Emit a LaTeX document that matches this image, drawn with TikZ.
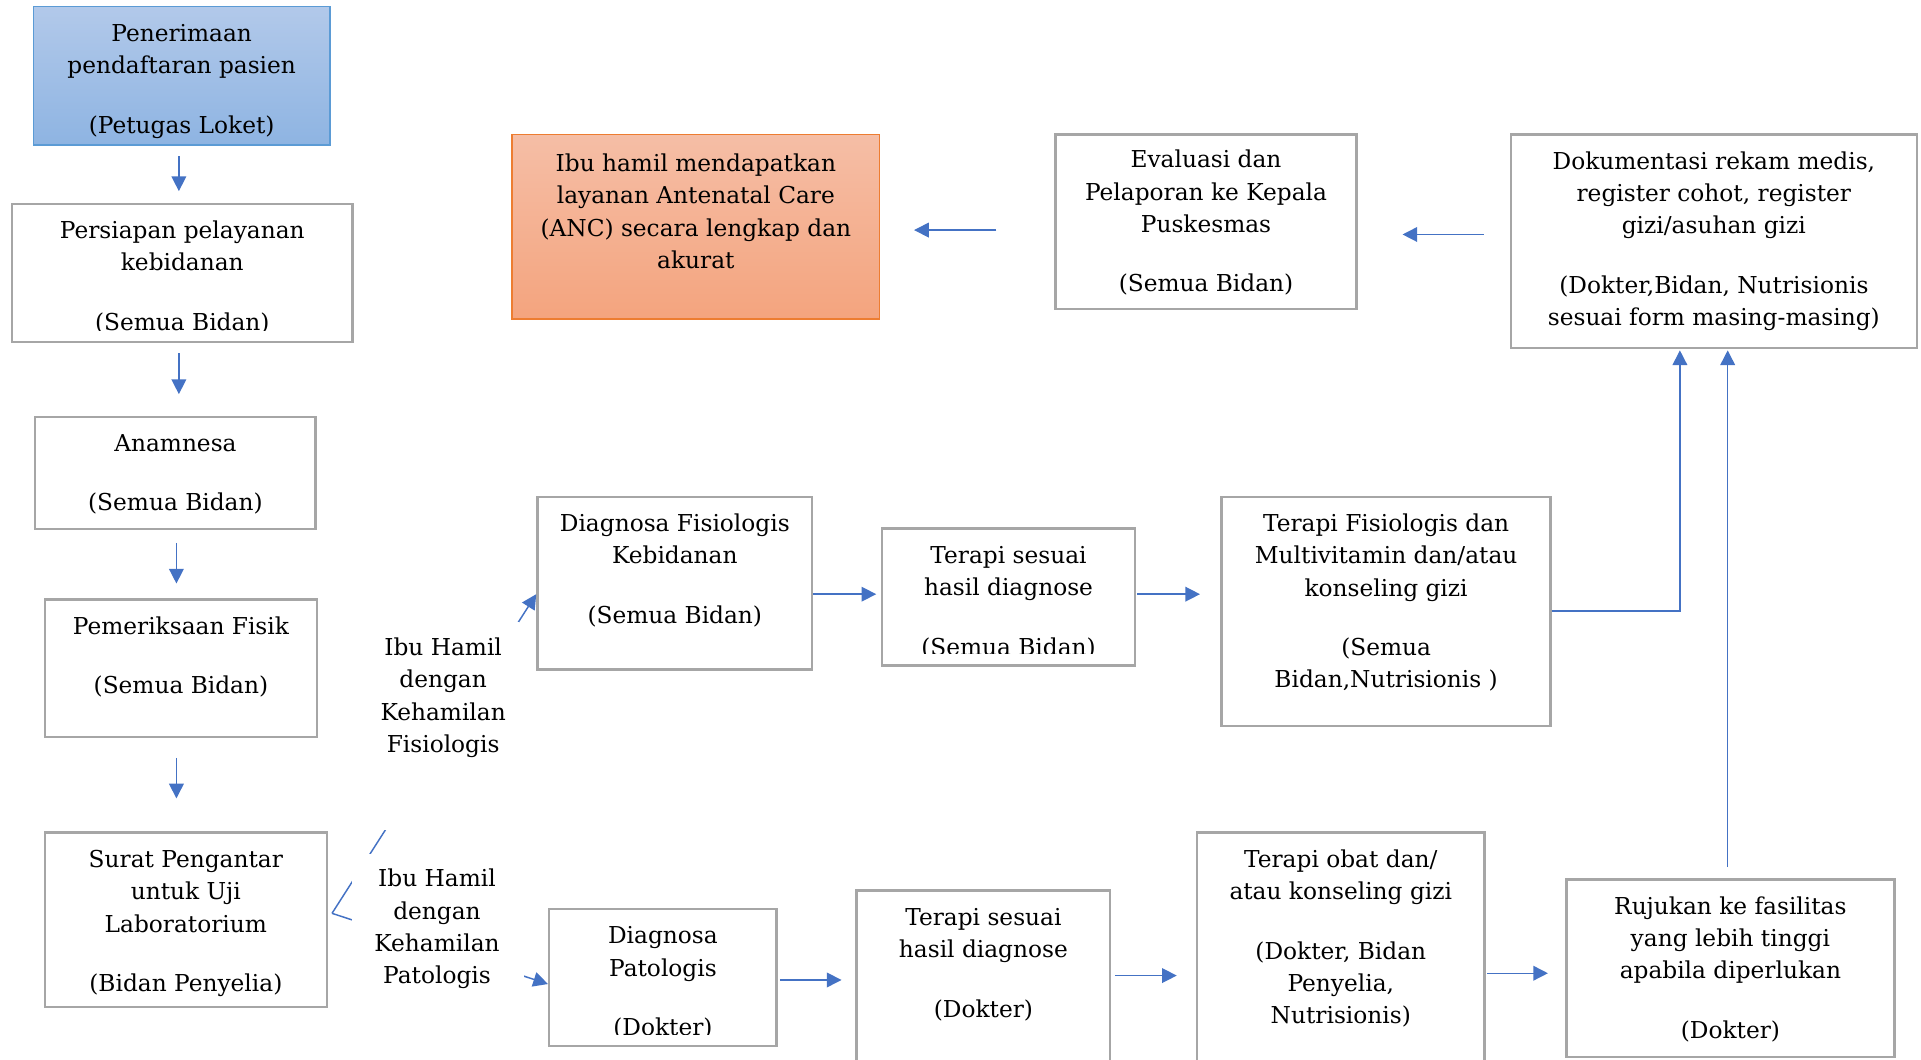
\documentclass[tikz,border=0pt]{standalone}
\usepackage{fontspec}
\setmainfont{DejaVu Serif}
\usetikzlibrary{arrows.meta}
\definecolor{arrowblue}{RGB}{68,114,196}
\definecolor{boxgray}{RGB}{166,166,166}
\definecolor{blueTop}{RGB}{178,201,234}
\definecolor{blueBot}{RGB}{142,180,226}
\definecolor{blueBorder}{RGB}{91,155,213}
\definecolor{orTop}{RGB}{245,190,166}
\definecolor{orBot}{RGB}{244,164,126}
\definecolor{orBorder}{RGB}{237,125,49}
\tikzset{
  stepbox/.style={draw=boxgray, line width=1pt},
  bluebox/.style={draw=blueBorder, line width=0.6pt, top color=blueTop, bottom color=blueBot},
  orangebox/.style={draw=orBorder, line width=0.6pt, top color=orTop, bottom color=orBot},
  txt/.style={font=\fontsize{9.5}{13.2}\selectfont, align=center, inner sep=0pt},
  cover/.style={fill=white, draw=none, inner sep=0pt},
  conn/.style={draw=arrowblue, line width=0.6pt, -{Triangle[length=6pt,width=6pt]}},
  line/.style={draw=arrowblue, line width=0.6pt}
}
\newcommand\bx[6]{\node[#6, minimum width={(#4-#2)*0.5pt}, minimum height={(#5-#3)*0.5pt}] (#1) at ({(#2+#4)/2},{(#3+#5)/2}) {};}
\newcommand\tx[4]{\node[txt, anchor=north] (#1) at (#2,{#3+9.5}) {\strut #4};}
\begin{document}
\begin{tikzpicture}[x=0.5pt,y=-0.5pt]
\path[use as bounding box] (0,0) rectangle (1568,865.2);
\clip (0,0) rectangle (1568,865.2);

% left column
\bx{b1}{27.3}{5.5}{269.3}{118.2}{bluebox}
\tx{t1}{148.3}{5.5}{Penerimaan\\pendaftaran pasien\\[11pt](Petugas Loket)}
\bx{b2}{10}{166.3}{287.7}{279}{stepbox}
\begin{scope}
\clip (10,166.3) rectangle (287.7,269.5);
\tx{t2}{148.8}{166.3}{Persiapan pelayanan\\kebidanan\\[11pt](Semua Bidan)}
\end{scope}
\bx{b3}{28.7}{340.3}{257.7}{431.8}{stepbox}
\tx{t3}{143.2}{340.3}{Anamnesa\\[11pt](Semua Bidan)}
\bx{b4}{36.7}{489.4}{258.7}{601.6}{stepbox}
\tx{t4}{147.7}{489.4}{Pemeriksaan Fisik\\[11pt](Semua Bidan)}
\bx{b5}{36.7}{679.7}{266.7}{822}{stepbox}
\tx{t5}{151.7}{679.7}{Surat Pengantar\\untuk Uji\\Laboratorium\\[11pt](Bidan Penyelia)}

% top row
\bx{b11}{418}{109.7}{717.9}{260.2}{orangebox}
\tx{t11}{568}{111.5}{Ibu hamil mendapatkan\\layanan Antenatal Care\\(ANC) secara lengkap dan\\akurat}
\bx{b10}{861.5}{109.7}{1107.2}{252}{stepbox}
\tx{t10}{984.4}{108.7}{Evaluasi dan\\Pelaporan ke Kepala\\Puskesmas\\[11pt](Semua Bidan)}
\bx{b9}{1233.2}{109.7}{1564.5}{284}{stepbox}
\tx{t9}{1398.9}{109.7}{Dokumentasi rekam medis,\\register cohot, register\\gizi/asuhan gizi\\[11pt](Dokter,Bidan, Nutrisionis\\sesuai form masing-masing)}

% middle row
\bx{b6}{438.7}{405.5}{662.9}{546.3}{stepbox}
\tx{t6}{550.8}{405.5}{Diagnosa Fisiologis\\Kebidanan\\[11pt](Semua Bidan)}
\bx{b7}{719.9}{431.5}{926.5}{543.3}{stepbox}
\begin{scope}
\clip (719.9,431.5) rectangle (926.5,533.5);
\tx{t7}{823.2}{431.5}{Terapi sesuai\\hasil diagnose\\[11pt](Semua Bidan)}
\end{scope}
\bx{b8}{997.2}{405.5}{1265.5}{592.7}{stepbox}
\tx{t8}{1131.4}{405.5}{Terapi Fisiologis dan\\Multivitamin dan/atau\\konseling gizi\\[11pt](Semua\\Bidan,Nutrisionis )}

% bottom row
\bx{b12}{448.3}{741.9}{633.9}{853.8}{stepbox}
\begin{scope}
\clip (448.3,741.9) rectangle (633.9,844);
\tx{t12}{541.1}{741.9}{Diagnosa\\Patologis\\[11pt](Dokter)}
\end{scope}
\bx{b13}{699.2}{727}{906.2}{900}{stepbox}
\tx{t13}{802.7}{727}{Terapi sesuai\\hasil diagnose\\[11pt](Dokter)}
\bx{b14}{976.9}{679.7}{1211.8}{900}{stepbox}
\tx{t14}{1094.4}{679.7}{Terapi obat dan/\\atau konseling gizi\\[11pt](Dokter, Bidan\\Penyelia,\\Nutrisionis)}
\bx{b15}{1278.5}{717.9}{1546.2}{862.6}{stepbox}
\tx{t15}{1412.4}{717.9}{Rujukan ke fasilitas\\yang lebih tinggi\\apabila diperlukan\\[11pt](Dokter)}

% vertical arrows left column
\draw[conn, shorten <=4.4pt, shorten >=4.65pt] (b1.south -| 146,0) -- (b2.north -| 146,0);
\draw[conn, shorten <=4.15pt, shorten >=8.8pt] (b2.south -| 146,0) -- (b3.north -| 146,0);
\draw[conn, shorten <=5.2pt, shorten >=6.05pt] (b3.south -| 144,0) -- (b4.north -| 144,0);
\draw[conn, shorten <=8pt, shorten >=13.5pt] (b4.south -| 144,0) -- (b5.north -| 144,0);

% middle row arrows
\draw[conn, shorten >=1.85pt] (b6.east |- 0,485) -- (b7.west |- 0,485);
\draw[conn, shorten <=0.35pt, shorten >=8.35pt] (b7.east |- 0,485) -- (b8.west |- 0,485);
\draw[conn, shorten >=0.5pt] (b8.east |- 0,498.8) -| (b9.south -| 1371.2,0);

% bottom row arrows
\draw[conn, shorten <=0.8pt, shorten >=5.65pt] (b12.east |- 0,799.9) -- (b13.west |- 0,799.9);
\draw[conn, shorten <=1.35pt, shorten >=7.7pt] (b13.east |- 0,796.3) -- (b14.west |- 0,796.3);
\draw[conn, shorten <=0.5pt, shorten >=7pt] (b14.east |- 0,794.4) -- (b15.west |- 0,794.4);
\draw[conn, shorten <=4.6pt, shorten >=0.5pt] (b15.north -| 1410.2,0) -- (b9.south -| 1410.2,0);

% top row arrows
\draw[conn, shorten <=10.5pt, shorten >=18.3pt] (b9.west |- 0,191.4) -- (b10.east |- 0,191.4);
\draw[conn, shorten <=23.65pt, shorten >=13.8pt] (b10.west |- 0,187.8) -- (b11.east |- 0,187.8);

% split connectors from Surat Pengantar
\coordinate (split) at (271,745.5);
\draw[conn] (split) -- (b6.west |- 0,485);
\draw[conn] (split) -- (b12.west |- 0,803.2);

% label boxes covering the connectors
\node[cover, minimum width={123.3*0.5pt}, minimum height={170.2*0.5pt}] (lf) at (361.65,592.7) {};
\node[txt, anchor=north] (lft) at (361.7,516.2) {\strut Ibu Hamil\\dengan\\Kehamilan\\Fisiologis};
\node[cover, minimum width={140*0.5pt}, minimum height={163*0.5pt}] (lp) at (357.3,778.7) {};
\node[txt, anchor=north] (lpt) at (356.7,704.9) {\strut Ibu Hamil\\dengan\\Kehamilan\\Patologis};
\end{tikzpicture}
\end{document}
